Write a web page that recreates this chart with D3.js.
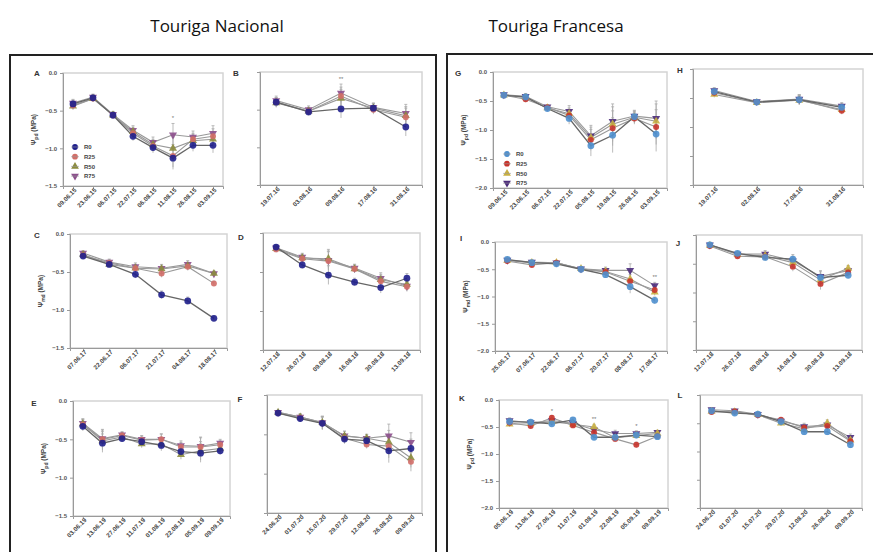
<!DOCTYPE html>
<html>
<head>
<meta charset="utf-8">
<script src="https://cdn.jsdelivr.net/npm/d3@7"></script>
<style>
  body { margin: 0; background: #fff; }
  svg { display: block; font-family: "Liberation Sans", Arial, sans-serif; }
</style>
</head>
<body>
<svg id="chart" width="873" height="552"></svg>
<script>
// ---------- data ----------
const series = ['R0', 'R25', 'R50', 'R75'];

const datesA = ['09.06.15', '23.06.15', '06.07.15', '22.07.15', '06.08.15', '11.08.15', '26.08.15', '03.09.15'];
const psiA = [[-0.41, -0.33, -0.56, -0.84, -0.99, -1.13, -0.96, -0.96],
              [-0.43, -0.34, -0.56, -0.80, -0.97, -1.10, -0.88, -0.84],
              [-0.44, -0.34, -0.56, -0.78, -0.95, -1.00, -0.90, -0.88],
              [-0.40, -0.32, -0.55, -0.76, -0.92, -0.82, -0.85, -0.80]];
const errA = [0.05, 0.04, 0.04, 0.06, 0.07, 0.15, 0.08, 0.10];
const sigA = ['', '', '', '', '', '*', '', ''];

const datesB = ['19.07.16', '03.08.16', '09.08.16', '17.08.16', '31.08.16'];
const psiB = [[-0.40, -0.53, -0.49, -0.48, -0.73],
              [-0.40, -0.52, -0.32, -0.50, -0.60],
              [-0.41, -0.52, -0.35, -0.48, -0.58],
              [-0.38, -0.50, -0.28, -0.47, -0.55]];
const errB = [0.06, 0.05, 0.12, 0.06, 0.12];
const sigB = ['', '', '**', '', ''];

const datesC = ['07.06.17', '22.06.17', '06.07.17', '21.07.17', '04.08.17', '18.08.17'];
const psiC = [[-0.29, -0.40, -0.53, -0.80, -0.88, -1.11],
              [-0.28, -0.38, -0.45, -0.52, -0.43, -0.65],
              [-0.27, -0.40, -0.45, -0.46, -0.42, -0.52],
              [-0.25, -0.37, -0.43, -0.45, -0.40, -0.52]];
const errC = [0.03, 0.04, 0.05, 0.05, 0.05, 0.03];
const sigC = ['', '', '', '', '', ''];

const datesD = ['12.07.18', '26.07.18', '09.08.18', '16.08.18', '30.08.18', '13.09.18'];
const psiD = [[-0.18, -0.41, -0.54, -0.63, -0.70, -0.58],
              [-0.21, -0.33, -0.36, -0.46, -0.62, -0.69],
              [-0.20, -0.32, -0.33, -0.46, -0.60, -0.66],
              [-0.19, -0.31, -0.35, -0.45, -0.58, -0.68]];
const errD = [0.03, 0.05, 0.12, 0.05, 0.07, 0.06];
const sigD = ['', '', '', '', '', ''];

const datesE = ['03.06.19', '13.06.19', '27.06.19', '11.07.19', '01.08.19', '22.08.19', '05.09.19', '09.09.19'];
const psiE = [[-0.33, -0.55, -0.49, -0.53, -0.58, -0.66, -0.68, -0.65],
              [-0.31, -0.50, -0.45, -0.51, -0.50, -0.60, -0.60, -0.57],
              [-0.30, -0.52, -0.47, -0.56, -0.56, -0.70, -0.65, -0.62],
              [-0.29, -0.49, -0.44, -0.50, -0.50, -0.58, -0.59, -0.55]];
const errE = [0.06, 0.12, 0.04, 0.05, 0.07, 0.06, 0.12, 0.05];
const sigE = ['', '', '', '', '', '', '', ''];

const datesF = ['24.06.20', '01.07.20', '15.07.20', '29.07.20', '12.08.20', '26.08.20', '09.09.20'];
const psiF = [[-0.23, -0.30, -0.36, -0.56, -0.58, -0.71, -0.68],
              [-0.23, -0.29, -0.36, -0.55, -0.63, -0.65, -0.85],
              [-0.22, -0.28, -0.35, -0.52, -0.55, -0.60, -0.80],
              [-0.22, -0.28, -0.35, -0.52, -0.55, -0.52, -0.60]];
const errF = [0.02, 0.04, 0.08, 0.06, 0.05, 0.15, 0.12];
const sigF = ['', '', '', '', '', '', ''];

const datesG = ['09.06.15', '23.06.15', '06.07.15', '22.07.15', '05.08.15', '19.08.15', '26.08.15', '03.09.15'];
const psiG = [[-0.40, -0.43, -0.63, -0.80, -1.27, -1.09, -0.77, -1.07],
              [-0.40, -0.47, -0.61, -0.75, -1.17, -0.97, -0.80, -0.95],
              [-0.40, -0.44, -0.62, -0.72, -1.13, -0.90, -0.78, -0.85],
              [-0.39, -0.42, -0.60, -0.68, -1.10, -0.85, -0.76, -0.80]];
const errG = [0.03, 0.05, 0.03, 0.10, 0.18, 0.30, 0.10, 0.30];
const sigG = ['', '', '', '', '', '', '', ''];

const datesH = ['19.07.16', '02.08.16', '17.08.16', '31.08.16'];
const psiH = [[-0.39, -0.57, -0.53, -0.66],
              [-0.41, -0.57, -0.53, -0.72],
              [-0.44, -0.58, -0.54, -0.70],
              [-0.37, -0.56, -0.52, -0.64]];
const errH = [0.05, 0.03, 0.08, 0.06];
const sigH = ['', '', '', ''];

const datesI = ['25.05.17', '07.06.17', '22.06.17', '06.07.17', '20.07.17', '08.08.17', '17.08.17'];
const psiI = [[-0.32, -0.38, -0.40, -0.50, -0.60, -0.82, -1.07],
              [-0.35, -0.42, -0.38, -0.50, -0.55, -0.72, -0.88],
              [-0.34, -0.38, -0.38, -0.49, -0.54, -0.68, -0.92],
              [-0.33, -0.37, -0.38, -0.49, -0.52, -0.52, -0.80]];
const errI = [0.03, 0.03, 0.03, 0.03, 0.06, 0.12, 0.06];
const sigI = ['', '', '', '', '', '', '**'];

const datesJ = ['12.07.18', '26.07.18', '09.08.18', '16.08.18', '30.08.18', '13.09.18'];
const psiJ = [[-0.17, -0.32, -0.39, -0.42, -0.74, -0.70],
              [-0.19, -0.37, -0.38, -0.55, -0.85, -0.65],
              [-0.18, -0.34, -0.36, -0.48, -0.78, -0.58],
              [-0.17, -0.33, -0.33, -0.45, -0.72, -0.62]];
const errJ = [0.03, 0.03, 0.06, 0.08, 0.10, 0.05];
const sigJ = ['', '', '', '', '', ''];

const datesK = ['05.06.19', '13.06.19', '27.06.19', '11.07.19', '01.08.19', '22.08.19', '05.09.19', '09.09.19'];
const psiK = [[-0.40, -0.41, -0.44, -0.37, -0.69, -0.69, -0.65, -0.68],
              [-0.42, -0.48, -0.33, -0.47, -0.60, -0.72, -0.83, -0.67],
              [-0.45, -0.44, -0.40, -0.45, -0.50, -0.70, -0.66, -0.62],
              [-0.38, -0.42, -0.38, -0.43, -0.55, -0.62, -0.62, -0.60]];
const errK = [0.05, 0.04, 0.04, 0.04, 0.05, 0.06, 0.05, 0.04];
const sigK = ['', '', '*', '', '**', '', '*', ''];

const datesL = ['24.06.20', '01.07.20', '15.07.20', '29.07.20', '12.08.20', '26.08.20', '09.09.20'];
const psiL = [[-0.28, -0.32, -0.34, -0.47, -0.65, -0.65, -0.88],
              [-0.30, -0.29, -0.36, -0.44, -0.58, -0.55, -0.82],
              [-0.29, -0.30, -0.35, -0.50, -0.60, -0.50, -0.80],
              [-0.26, -0.28, -0.34, -0.46, -0.56, -0.53, -0.75]];
const errL = [0.03, 0.03, 0.03, 0.04, 0.06, 0.06, 0.06];
const sigL = ['', '', '', '', '', '', ''];

const ticksNac = [0, -0.5, -1.0, -1.5];
const ticksFra = [0, -0.5, -1.0, -1.5, -2.0];

// ---------- styles / layout ----------
const colorsNac = ['#1f1f8c', '#d26e68', '#8c8c3e', '#8c4f8c'];
const colorsFra = ['#4f90cf', '#c8342c', '#c9b042', '#4b2b7b'];
const shapes = [d3.symbolCircle, d3.symbolCircle, d3.symbolTriangle, d3.symbolTriangle];
const flip = [false, false, false, true];

const panels = [
  { id: 'A', dates: datesA, psi: psiA, err: errA, sig: sigA, l: 63,  r: 223, t: 73,  b: 186, ticks: ticksNac, lab: 'pd', lx: 37,  ly: 76,  pal: colorsNac, legend: [75, 147] },
  { id: 'B', dates: datesB, psi: psiB, err: errB, sig: sigB, l: 260, r: 422, t: 72,  b: 185, ticks: ticksNac, lab: null, lx: 236, ly: 76,  pal: colorsNac },
  { id: 'C', dates: datesC, psi: psiC, err: errC, sig: sigC, l: 70,  r: 227, t: 234, b: 348, ticks: ticksNac, lab: 'md', lx: 37,  ly: 238, pal: colorsNac },
  { id: 'D', dates: datesD, psi: psiD, err: errD, sig: sigD, l: 263, r: 420, t: 233, b: 350, ticks: ticksNac, lab: null, lx: 241, ly: 240, pal: colorsNac },
  { id: 'E', dates: datesE, psi: psiE, err: errE, sig: sigE, l: 73,  r: 230, t: 401, b: 516, ticks: ticksNac, lab: 'pd', lx: 34,  ly: 406, pal: colorsNac },
  { id: 'F', dates: datesF, psi: psiF, err: errF, sig: sigF, l: 267, r: 422, t: 395, b: 513, ticks: ticksNac, lab: null, lx: 240, ly: 402, pal: colorsNac },
  { id: 'G', dates: datesG, psi: psiG, err: errG, sig: sigG, l: 493, r: 667, t: 72,  b: 188, ticks: ticksFra, lab: 'pd', lx: 458, ly: 76,  pal: colorsFra, legend: [507, 154] },
  { id: 'H', dates: datesH, psi: psiH, err: errH, sig: sigH, l: 693, r: 863, t: 69,  b: 185, ticks: ticksFra, lab: null, lx: 680, ly: 73,  pal: colorsFra },
  { id: 'I', dates: datesI, psi: psiI, err: errI, sig: sigI, l: 495, r: 667, t: 242, b: 351, ticks: ticksFra, lab: 'md', lx: 461, ly: 241, pal: colorsFra },
  { id: 'J', dates: datesJ, psi: psiJ, err: errJ, sig: sigJ, l: 696, r: 862, t: 235, b: 350, ticks: ticksFra, lab: null, lx: 678, ly: 246, pal: colorsFra },
  { id: 'K', dates: datesK, psi: psiK, err: errK, sig: sigK, l: 499, r: 668, t: 400, b: 508, ticks: ticksFra, lab: 'pd', lx: 462, ly: 401, pal: colorsFra },
  { id: 'L', dates: datesL, psi: psiL, err: errL, sig: sigL, l: 700, r: 862, t: 395, b: 508, ticks: ticksFra, lab: null, lx: 680, ly: 398, pal: colorsFra }
];

const svg = d3.select('#chart');

// cultivar titles
svg.append('text').attr('x', 217).attr('y', 32).attr('text-anchor', 'middle')
  .attr('font-family', '"Open Sans", sans-serif')
  .attr('font-size', 17).attr('fill', '#111').text('Touriga Nacional');
svg.append('text').attr('x', 556).attr('y', 32).attr('text-anchor', 'middle')
  .attr('font-family', '"Open Sans", sans-serif')
  .attr('font-size', 17).attr('fill', '#111').text('Touriga Francesa');

// outer boxes
svg.append('rect').attr('x', 10).attr('y', 55).attr('width', 426).attr('height', 520)
  .attr('fill', 'none').attr('stroke', '#222').attr('stroke-width', 2);
svg.append('rect').attr('x', 447).attr('y', 54).attr('width', 440).attr('height', 520)
  .attr('fill', 'none').attr('stroke', '#222').attr('stroke-width', 2);

function symbolPath(i, size) {
  return d3.symbol().type(shapes[i]).size(size)();
}

panels.forEach(p => {
  const g = svg.append('g');
  const ymin = p.ticks[p.ticks.length - 1];

  let x = d3.scalePoint().domain(p.dates).range([p.l, p.r]).padding(0.5);
  let y = d3.scaleLinear().domain([ymin, 0]).range([p.b, p.t]);

  // frame
  g.append('rect').attr('x', p.l).attr('y', p.t)
    .attr('width', p.r - p.l).attr('height', p.b - p.t)
    .attr('fill', 'none').attr('stroke', '#d4d4d4').attr('stroke-width', 1.5);

  // axes
  let yAxis = d3.axisLeft(y).tickValues(p.ticks).tickSize(3)
    .tickFormat(p.lab ? d3.format('.1f') : '');
  let ya = g.append('g').attr('transform', `translate(${p.l},0)`).call(yAxis);
  ya.select('.domain').attr('stroke', '#9a9a9a');
  ya.selectAll('line').attr('stroke', '#9a9a9a');
  ya.selectAll('text').attr('font-size', 6).attr('font-weight', 'bold').attr('fill', '#555')
    .text(d => d === 0 ? '0.0' : d3.format('.1f')(d));
  if (!p.lab) ya.selectAll('text').remove();

  let xAxis = d3.axisBottom(x).tickSize(3);
  let xa = g.append('g').attr('transform', `translate(0,${p.b})`).call(xAxis);
  xa.select('.domain').attr('stroke', '#9a9a9a');
  xa.selectAll('line').attr('stroke', '#9a9a9a');
  xa.selectAll('text')
    .attr('font-size', 6.3).attr('font-weight', 'bold').attr('fill', '#444')
    .attr('text-anchor', 'end')
    .attr('transform', 'translate(2,3) rotate(-45)')
    .attr('dy', '0.35em').attr('y', 0).attr('x', 0);

  // panel letter
  g.append('text').attr('x', p.lx).attr('y', p.ly).attr('font-size', 8)
    .attr('font-weight', 'bold').attr('fill', '#333').attr('text-anchor', 'middle').text(p.id);

  // y label
  if (p.lab) {
    let t = g.append('text')
      .attr('transform', `translate(${p.l - 27},${(p.t + p.b) / 2}) rotate(-90)`)
      .attr('text-anchor', 'middle').attr('font-size', 6.5).attr('font-weight', 'bold').attr('fill', '#444');
    t.append('tspan').text('\u03A8');
    t.append('tspan').attr('font-size', 5).attr('dy', 1.5).text(p.lab);
    t.append('tspan').attr('dy', -1.5).text(' (MPa)');
  }

  // error bars
  p.psi.forEach((vals, si) => {
    g.append('g').selectAll('line').data(vals).enter().append('line')
      .attr('x1', (d, i) => x(p.dates[i])).attr('x2', (d, i) => x(p.dates[i]))
      .attr('y1', (d, i) => y(d - p.err[i])).attr('y2', (d, i) => y(Math.min(0, d + p.err[i])))
      .attr('stroke', '#aaa').attr('stroke-width', 0.8);
    g.append('g').selectAll('line').data(vals).enter().append('line')
      .attr('x1', (d, i) => x(p.dates[i]) - 1.5).attr('x2', (d, i) => x(p.dates[i]) + 1.5)
      .attr('y1', (d, i) => y(Math.min(0, d + p.err[i]))).attr('y2', (d, i) => y(Math.min(0, d + p.err[i])))
      .attr('stroke', '#aaa').attr('stroke-width', 0.8);
  });

  // lines
  let line = d3.line().x((d, i) => x(p.dates[i])).y(d => y(d));
  [3, 2, 1, 0].forEach(si => {
    g.append('path').datum(p.psi[si]).attr('d', line)
      .attr('fill', 'none')
      .attr('stroke', si === 0 ? '#666' : '#999')
      .attr('stroke-width', si === 0 ? 1.3 : 1.1);
  });

  // markers
  [3, 2, 1, 0].forEach(si => {
    g.append('g').selectAll('path').data(p.psi[si]).enter().append('path')
      .attr('d', symbolPath(si, si === 0 ? 36 : 28))
      .attr('transform', (d, i) => `translate(${x(p.dates[i])},${y(d)})` + (flip[si] ? ' rotate(180)' : ''))
      .attr('fill', p.pal[si]).attr('fill-opacity', 0.9);
  });

  // significance marks
  g.append('g').selectAll('text').data(p.sig).enter().append('text')
    .attr('x', (d, i) => x(p.dates[i]))
    .attr('y', (d, i) => y(Math.min(0, d3.max(p.psi.map(s => s[i])) + p.err[i])) - 3)
    .attr('text-anchor', 'middle').attr('font-size', 6).attr('fill', '#777')
    .text(d => d);

  // legend
  if (p.legend) {
    let lg = g.append('g');
    series.forEach((s, si) => {
      let yy = p.legend[1] + si * 9.7;
      lg.append('path').attr('d', symbolPath(si, 26))
        .attr('transform', `translate(${p.legend[0]},${yy})` + (flip[si] ? ' rotate(180)' : ''))
        .attr('fill', p.pal[si]);
      lg.append('line').attr('x1', p.legend[0] - 4).attr('x2', p.legend[0] + 4)
        .attr('y1', yy).attr('y2', yy).attr('stroke', '#999').attr('stroke-width', 0.6);
      lg.append('text').attr('x', p.legend[0] + 9).attr('y', yy).attr('dy', '0.35em')
        .attr('font-size', 6).attr('fill', '#444').attr('font-weight', 'bold').text(s);
    });
  }
});
</script>
</body>
</html>
